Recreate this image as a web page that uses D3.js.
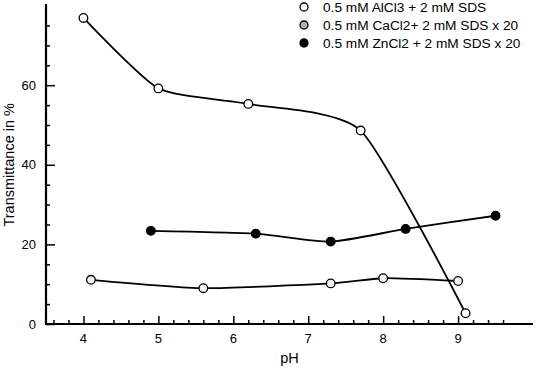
<!DOCTYPE html>
<html>
<head>
<meta charset="utf-8">
<script src="https://cdn.jsdelivr.net/npm/d3@7"></script>
<style>
  html, body { margin: 0; padding: 0; background: #fff; }
  svg { display: block; font-family: "Liberation Sans", Arial, sans-serif; }
</style>
</head>
<body>
<svg id="chart" width="536" height="368"></svg>
<script>
// ---- data ----
const seriesNames = [
  "0.5 mM AlCl3 + 2 mM SDS",
  "0.5 mM CaCl2+ 2 mM SDS x 20",
  "0.5 mM ZnCl2 + 2 mM SDS x 20"
];
const alcl3PH = [4.0, 5.0, 6.2, 7.7, 9.1];
const alcl3T  = [76.9, 59.2, 55.3, 48.6, 2.7];
const cacl2PH = [4.1, 5.6, 7.3, 8.0, 9.0];
const cacl2T  = [11.1, 9.0, 10.2, 11.5, 10.8];
const zncl2PH = [4.9, 6.3, 7.3, 8.3, 9.5];
const zncl2T  = [23.4, 22.7, 20.7, 23.9, 27.2];
const xMajorTicks = [4, 5, 6, 7, 8, 9];
const yMajorTicks = [0, 20, 40, 60];

// ---- layout ----
const svg = d3.select("#chart");
const x = d3.scaleLinear().domain([3.5, 10]).range([46, 533]);
const y = d3.scaleLinear().domain([0, 80]).range([324, 5.6]);

const xMinor = d3.range(36, 97, 2).map(v => v / 10).filter(v => !xMajorTicks.includes(v));
const yMinor = d3.range(5, 80, 5).filter(v => !yMajorTicks.includes(v));

const series = [
  { name: seriesNames[0], xs: alcl3PH, ys: alcl3T, fill: "#fff", legendFill: "#fff" },
  { name: seriesNames[1], xs: cacl2PH, ys: cacl2T, fill: "#f4f4f4", legendFill: "#b0b0b0" },
  { name: seriesNames[2], xs: zncl2PH, ys: zncl2T, fill: "#000", legendFill: "#000" }
];

// axes (ticks inside)
const xAxisMajor = d3.axisTop(x).tickValues(xMajorTicks).tickSize(8).tickFormat("");
const xAxisMinor = d3.axisTop(x).tickValues(xMinor).tickSize(4).tickFormat("");
const yAxisMajor = d3.axisRight(y).tickValues(yMajorTicks).tickSize(9).tickFormat("");
const yAxisMinor = d3.axisRight(y).tickValues(yMinor).tickSize(4).tickFormat("");

function styleAxis(g) {
  g.select(".domain").remove();
  g.selectAll(".tick line").attr("stroke", "#000").attr("stroke-width", 1.5);
}
svg.append("g").attr("transform", `translate(0,${y(0)})`).call(xAxisMajor).call(styleAxis);
svg.append("g").attr("transform", `translate(0,${y(0)})`).call(xAxisMinor).call(styleAxis);
svg.append("g").attr("transform", `translate(${x(3.5)},0)`).call(yAxisMajor).call(styleAxis);
svg.append("g").attr("transform", `translate(${x(3.5)},0)`).call(yAxisMinor).call(styleAxis);

// axis lines
svg.append("line").attr("x1", x(3.5) - 1).attr("x2", x(10)).attr("y1", y(0)).attr("y2", y(0))
  .attr("stroke", "#000").attr("stroke-width", 2.2);
svg.append("line").attr("x1", x(3.5)).attr("x2", x(3.5)).attr("y1", y(0)).attr("y2", y(80) - 1.5)
  .attr("stroke", "#000").attr("stroke-width", 2.2);

// tick labels
svg.append("g").selectAll("text").data(xMajorTicks).join("text")
  .attr("x", d => x(d)).attr("y", 343).attr("text-anchor", "middle")
  .attr("font-size", 13).attr("fill", "#000").text(d => d);
svg.append("g").selectAll("text").data(yMajorTicks).join("text")
  .attr("x", 36).attr("y", d => y(d) + 4.5).attr("text-anchor", "end")
  .attr("font-size", 13).attr("fill", "#000").text(d => d);

// axis titles
svg.append("text").attr("x", x(6.75)).attr("y", 363).attr("text-anchor", "middle")
  .attr("font-size", 14.5).attr("fill", "#000").text("pH");
svg.append("text").attr("transform", `translate(14,${y(40)}) rotate(-90)`)
  .attr("text-anchor", "middle").attr("font-size", 14.5).attr("fill", "#000")
  .text("Transmittance in %");

// lines + markers
const line = d3.line().x(d => x(d[0])).y(d => y(d[1])).curve(d3.curveCardinal.tension(0.4));
series.forEach(s => {
  const pts = s.xs.map((v, i) => [v, s.ys[i]]);
  svg.append("path").datum(pts).attr("d", line)
    .attr("fill", "none").attr("stroke", "#000").attr("stroke-width", 1.8);
  svg.append("g").selectAll("circle").data(pts).join("circle")
    .attr("cx", d => x(d[0])).attr("cy", d => y(d[1])).attr("r", 4.3)
    .attr("fill", s.fill).attr("stroke", "#000").attr("stroke-width", 1.3);
});

// legend
const legend = svg.append("g");
series.forEach((s, i) => {
  const ly = 7 + i * 18;
  legend.append("circle").attr("cx", 304).attr("cy", ly).attr("r", 4)
    .attr("fill", s.legendFill).attr("stroke", "#000").attr("stroke-width", 1.3);
  legend.append("text").attr("x", 323).attr("y", ly + 5)
    .attr("font-size", 13.7).attr("fill", "#000").text(s.name);
});
</script>
</body>
</html>
